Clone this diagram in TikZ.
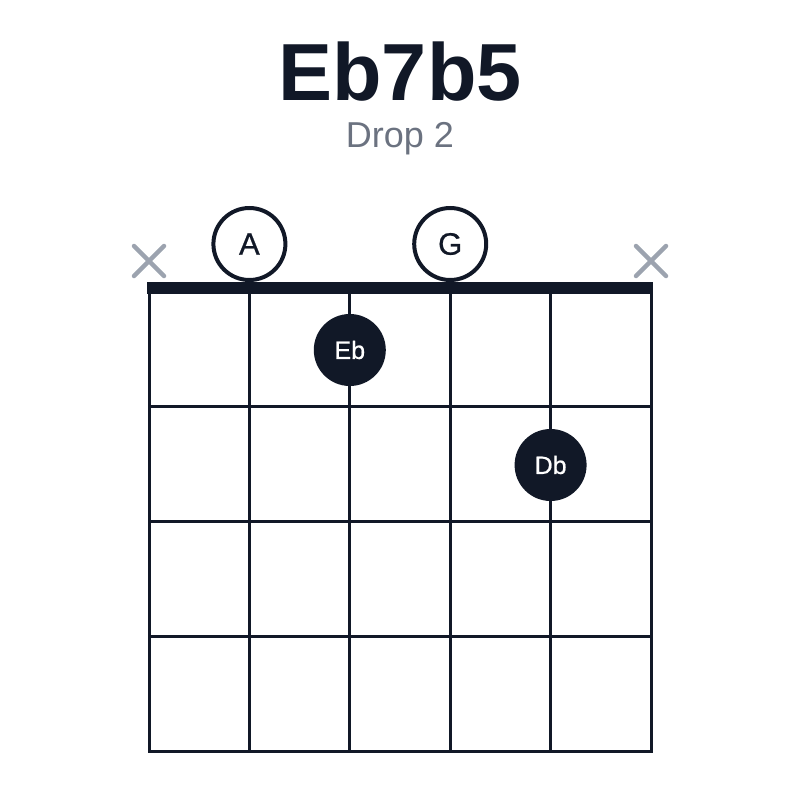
\documentclass[tikz,border=0pt]{standalone}
\usepackage{fontspec}
\setmainfont{Liberation Sans}
\newfontface\notefont{Liberation Sans}[FakeBold=0.7]
\usetikzlibrary{positioning}
\definecolor{ink}{HTML}{111827}
\definecolor{subgray}{HTML}{6B7280}
\definecolor{mutegray}{HTML}{9CA3AF}
\tikzset{
	chart/.style={x=1pt,y=-1pt},
	fretline/.style={draw=ink,line width=3pt},
	nutbar/.style={draw=ink,line width=12pt},
	openstring/.style={circle,draw=ink,line width=4pt,fill=white,minimum size=72pt,
		inner sep=0pt,text=ink,font=\notefont\fontsize{31}{31}\selectfont},
	finger/.style={circle,fill=ink,minimum size=72pt,inner sep=0pt,text=white,
		font=\notefont\fontsize{25}{25}\selectfont},
	mutemark/.style={draw=mutegray,line width=4.5pt,line cap=round}
}
\begin{document}
\begin{tikzpicture}[chart]
	\useasboundingbox (0,0) rectangle (800,800);
	
	% titles
	\node[anchor=base,text=ink,font=\fontsize{81}{81}\selectfont\bfseries] (title) at (400,100) {Eb7b5};
	\node[anchor=base,text=subgray,font=\fontsize{36}{36}\selectfont] (sub) at (400,147) {Drop 2};
	
	% grid
	\draw[fretline] (149,291) rectangle (651,751);
	\foreach \s in {1,...,4}
		\draw[fretline] (149+100.4*\s,291) -- (149+100.4*\s,751);
	\foreach \f in {406,521,636}
		\draw[fretline] (149,\f) -- (651,\f);
	\draw[nutbar] (147,288) -- (653,288);
	
	% open and muted strings
	\node[openstring] (a) at (249.4,244) {A};
	\node[openstring] (g) at (450.2,244) {G};
	\coordinate (m1) at (149,261);
	\coordinate (m6) at (651,261);
	\foreach \m in {m1,m6}
		\draw[mutemark] (\m) ++(-15,-15) -- ++(30,30) (\m) ++(-15,15) -- ++(30,-30);
	
	% fingers
	\node[finger] (eb) at (349.8,350) {Eb};
	\node[finger] (db) at (550.6,465) {Db};
\end{tikzpicture}
\end{document}
